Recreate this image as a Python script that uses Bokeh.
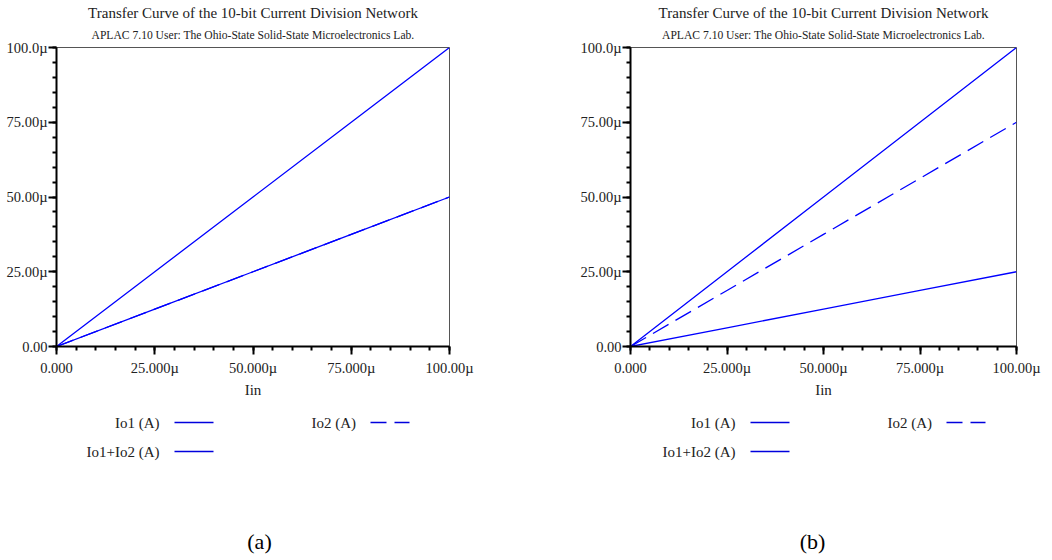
from bokeh.plotting import figure
from bokeh.layouts import row, column
from bokeh.models import Range1d, FixedTicker, Title
from bokeh.core.properties import value
from bokeh.embed import file_html
from bokeh.resources import INLINE

# ---- data (amperes) ----
iin = [0.0, 25e-6, 50e-6, 75e-6, 100e-6]
a_io1 = [0.0, 12.5e-6, 25e-6, 37.5e-6, 50e-6]
a_io2 = [0.0, 12.5e-6, 25e-6, 37.5e-6, 50e-6]
a_sum = [0.0, 25e-6, 50e-6, 75e-6, 100e-6]
b_io1 = [0.0, 6.25e-6, 12.5e-6, 18.75e-6, 25e-6]
b_io2 = [0.0, 18.75e-6, 37.5e-6, 56.25e-6, 75e-6]
b_sum = [0.0, 25e-6, 50e-6, 75e-6, 100e-6]

x_ticks = [0.0, 25e-6, 50e-6, 75e-6, 100e-6]
x_tick_labels = ["0.000", "25.000µ", "50.000µ", "75.000µ", "100.00µ"]
y_ticks = [0.0, 25e-6, 50e-6, 75e-6, 100e-6]
y_tick_labels = ["0.00", "25.00µ", "50.00µ", "75.00µ", "100.0µ"]
minor_ticks = [i * 5e-6 for i in range(21)]

title_text = "Transfer Curve of the 10-bit Current Division Network"
subtitle_text = "APLAC 7.10 User: The Ohio-State Solid-State Microelectronics Lab."
legend_labels = ["Io1 (A)", "Io2 (A)", "Io1+Io2 (A)"]
x_label = "Iin"

FONT = "Liberation Serif"
BLUE = "#0000ff"
DASH = "18 8"
W = 526
CHART_H = 400
LEG_H = 560 - CHART_H


def make_panel(io1, io2, tot, caption, left, right, leg_x, cap_x):
    p = figure(width=W, height=CHART_H, output_backend="svg", toolbar_location=None,
               x_range=Range1d(0, 100e-6), y_range=Range1d(0, 100e-6),
               min_border_left=left, min_border_right=right,
               min_border_top=47, min_border_bottom=CHART_H - 346)
    p.xgrid.visible = False
    p.ygrid.visible = False
    p.outline_line_color = "#555555"
    p.outline_line_width = 1
    p.border_fill_color = "white"

    p.line(iin, io2, line_color=BLUE, line_width=1.3, line_dash=DASH)
    p.line(iin, io1, line_color=BLUE, line_width=1.3)
    p.line(iin, tot, line_color=BLUE, line_width=1.3)

    for ax, ticks, labels in ((p.xaxis[0], x_ticks, x_tick_labels),
                              (p.yaxis[0], y_ticks, y_tick_labels)):
        ax.ticker = FixedTicker(ticks=ticks, minor_ticks=minor_ticks)
        ax.major_label_overrides = {t: l for t, l in zip(ticks, labels)}
        ax.axis_line_color = "black"
        ax.axis_line_width = 2
        ax.major_tick_line_color = "black"
        ax.major_tick_line_width = 2
        ax.minor_tick_line_color = "black"
        ax.minor_tick_line_width = 2
        ax.major_tick_in = 0
        ax.minor_tick_in = 0
        ax.major_tick_out = 8
        ax.minor_tick_out = 4
        ax.major_label_text_font = FONT
        ax.major_label_text_font_size = "14.5px"
        ax.major_label_text_color = "#222222"
    p.xaxis.major_label_standoff = 5
    p.yaxis.major_label_standoff = 1
    p.xaxis.axis_label = x_label
    p.xaxis.axis_label_text_font = FONT
    p.xaxis.axis_label_text_font_style = "normal"
    p.xaxis.axis_label_text_font_size = "15px"
    p.xaxis.axis_label_text_color = "#222222"
    p.xaxis.axis_label_standoff = 3

    p.add_layout(Title(text=subtitle_text, align="center", text_font=FONT,
                       text_font_size="11.6px", text_font_style="normal",
                       text_color="#222222", standoff=11), "above")
    p.add_layout(Title(text=title_text, align="center", text_font=FONT,
                       text_font_size="15px", text_font_style="normal",
                       text_color="#222222", standoff=1), "above")

    # legend / caption area: x in panel pixels, y in pixels downwards
    q = figure(width=W, height=LEG_H, output_backend="svg", toolbar_location=None,
               x_range=Range1d(left, W - right), y_range=Range1d(LEG_H, 0),
               x_axis_type=None, y_axis_type=None,
               min_border_left=left, min_border_right=right,
               min_border_top=0, min_border_bottom=0)
    q.xgrid.visible = False
    q.ygrid.visible = False
    q.outline_line_color = None
    y1, y2 = 22, 51
    q.text(x=[leg_x, leg_x], y=[y1, y2], text=[legend_labels[0], legend_labels[2]],
           text_font=value(FONT), text_font_size=value("15px"), text_align="right",
           text_baseline="middle", text_color="#222222")
    q.text(x=[leg_x + 152], y=[y1], text=[legend_labels[1]],
           text_font=value(FONT), text_font_size=value("15px"), text_align="left",
           text_baseline="middle", text_color="#222222")
    q.segment(x0=[leg_x + 15, leg_x + 15], y0=[y1, y2], x1=[leg_x + 54, leg_x + 54], y1=[y1, y2],
              line_color="#0000dd", line_width=1.3)
    q.segment(x0=[leg_x + 211], y0=[y1], x1=[leg_x + 250], y1=[y1],
              line_color="#0000dd", line_width=1.3, line_dash="16 8")
    q.text(x=[cap_x], y=[141], text=[caption], text_font=value(FONT),
           text_font_size=value("22px"), text_align="center", text_baseline="middle",
           text_color="black")
    return column(p, q, spacing=0)


pa = make_panel(a_io1, a_io2, a_sum, "(a)", 56, 77, 159, 259)
pb = make_panel(b_io1, b_io2, b_sum, "(b)", 104, 36, 735 - W, 812 - W)

layout = row(pa, pb, spacing=0)
open("out.html", "w").write(file_html(layout, INLINE))
